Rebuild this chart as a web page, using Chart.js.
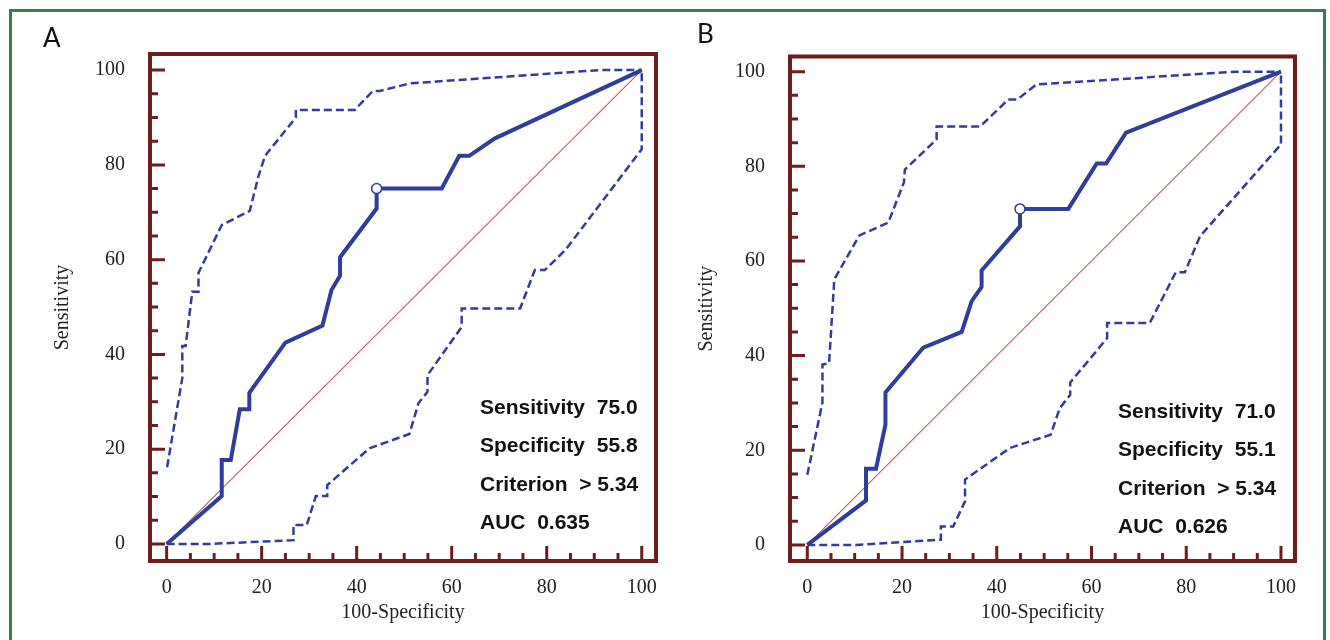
<!DOCTYPE html>
<html>
<head>
<meta charset="utf-8">
<script src="https://cdn.jsdelivr.net/npm/chart.js@4.4.1/dist/chart.umd.min.js"></script>
<style>
  html,body{margin:0;padding:0;background:#fff;}
  #wrap{position:relative;width:1330px;height:640px;overflow:hidden;background:#fff;}
  #edge{position:absolute;left:9px;top:9px;right:4px;bottom:-10px;border:3px solid #3e7b4e;}
  .pane{position:absolute;top:0;width:665px;height:640px;}
</style>
</head>
<body>
<div id="wrap">
  <div id="edge"></div>
  <div class="pane" style="left:0"><canvas id="cA" width="665" height="640"></canvas></div>
  <div class="pane" style="left:665px"><canvas id="cB" width="665" height="640"></canvas></div>
</div>
<script>
// ---- data (100-Specificity, Sensitivity) ----
const tickVals = [0, 20, 40, 60, 80, 100];
const diagonal = [[0, 0], [100, 100]];
const statLabels = ['Sensitivity', 'Specificity', 'Criterion', 'AUC'];

const rocA = [[0,0],[11.6,10.1],[11.6,17.7],[13.5,17.7],[15.4,28.4],[17.4,28.4],[17.4,31.9],[25,42.5],[32.8,46.1],[34.7,53.6],[36.5,56.6],[36.5,60.5],[44.2,70.8],[44.2,75],[57.9,75],[61.6,81.9],[63.7,81.9],[69.1,85.6],[100,100]];
const upperA = [[0.1,16.2],[3.3,35],[3.3,41.8],[4,41.8],[5.4,53.2],[6.7,53.2],[6.7,57.2],[11.6,67.3],[17.5,70.3],[19.3,77.5],[20.7,81.9],[27.2,90],[27.2,91.6],[39.6,91.6],[43.4,95.6],[44.9,95.6],[51.2,97.2],[91.2,100],[100,100]];
const lowerA = [[0,0],[9.1,0],[26.7,0.8],[26.7,4],[29.5,4],[31.4,10.1],[33.8,10.1],[33.8,12.4],[42.7,20.2],[51.1,23.2],[53,29.7],[54.9,32.1],[54.9,35.6],[62.1,45.8],[62.1,49.7],[74.4,49.7],[77.5,57.8],[79.6,57.8],[83.9,62],[100,83.3],[100,100]];
const cutA = [[44.2, 75.0]];
const valuesA = ['75.0', '55.8', '> 5.34', '0.635'];

const rocB = [[0,0],[12.4,9.4],[12.4,16.1],[14.5,16.1],[16.5,25.4],[16.5,32.2],[24.5,41.7],[32.6,45],[34.7,51.5],[36.8,54.5],[36.8,58],[44.9,67.3],[44.9,71],[55.1,71],[61.1,80.6],[63.1,80.6],[67.3,87.1],[100,100]];
const upperB = [[0,14.8],[3.2,30.1],[3.2,38.1],[4.6,38.4],[5.7,56.1],[11,65.4],[17.1,68.1],[20.4,76.6],[20.6,79.3],[27.3,85.7],[27.3,88.4],[36.5,88.4],[42.4,94.1],[44.3,94.1],[48.4,97.3],[90.6,100],[100,100]];
const lowerB = [[0,0],[10.4,0],[28.2,1.1],[28.2,3.9],[30.8,3.9],[33.3,9.2],[33.3,13.8],[42.8,20.5],[51.4,23.3],[53.3,28.9],[55.5,31.7],[55.5,34.3],[63.3,43.7],[63.3,46.9],[72.3,46.9],[77.8,57.6],[79.7,57.6],[82.9,65.2],[100,84.6],[100,100]];
const cutB = [[44.9, 71.0]];
const valuesB = ['71.0', '55.1', '> 5.34', '0.626'];

const BLUE = '#2f3d9c';
const MAROON = '#6e1c1c';
const pts = a => a.map(p => ({x: p[0], y: p[1]}));

// frame, inward ticks, stats text and panel letter
const decor = {
  id: 'decor',
  beforeDatasetsDraw(chart, args, o) {
    const {ctx, chartArea: a, scales: {x, y}} = chart;
    ctx.save();
    ctx.strokeStyle = MAROON;
    ctx.lineWidth = 3;
    ctx.beginPath();
    for (let v = 0; v <= 100; v += 5) {
      const len = v % 20 === 0 ? 15 : 8;
      const py = y.getPixelForValue(v), px = x.getPixelForValue(v);
      ctx.moveTo(a.left, py); ctx.lineTo(a.left + len, py);
      ctx.moveTo(px, a.bottom); ctx.lineTo(px, a.bottom - len);
    }
    ctx.stroke();
    ctx.lineWidth = 4;
    ctx.strokeRect(a.left, a.top, a.right - a.left, a.bottom - a.top);
    ctx.restore();
  },
  afterDraw(chart, args, o) {
    const ctx = chart.ctx;
    ctx.save();
    ctx.fillStyle = '#111';
    ctx.font = 'bold 21px "Liberation Sans", Arial, sans-serif';
    ctx.textBaseline = 'middle';
    ctx.textAlign = 'left';
    statLabels.forEach((l, i) => ctx.fillText(l + '  ' + o.values[i], o.textX, o.textY + i * 38.5));
    ctx.font = '26px Lato, "Open Sans", sans-serif';
    ctx.textBaseline = 'alphabetic';
    ctx.fillText(o.letter, o.letterX, o.letterY);
    ctx.restore();
  }
};

function rocChart(id, d) {
  const tickFont = {family: '"Liberation Serif", "Times New Roman", serif', size: 20};
  return new Chart(document.getElementById(id), {
    type: 'scatter',
    data: {
      datasets: [
        {data: pts(d.cut), showLine: false, pointRadius: 5, pointBorderWidth: 1.5,
         pointBackgroundColor: '#fff', pointBorderColor: BLUE, order: 0},
        {data: pts(d.roc), showLine: true, borderColor: BLUE, borderWidth: 4, pointRadius: 0, order: 1},
        {data: pts(d.upper), showLine: true, borderColor: BLUE, borderWidth: 2.5, borderDash: [8, 4], pointRadius: 0, order: 2},
        {data: pts(d.lower), showLine: true, borderColor: BLUE, borderWidth: 2.5, borderDash: [8, 4], pointRadius: 0, order: 2},
        {data: pts(diagonal), showLine: true, borderColor: '#c4645c', borderWidth: 1.2, pointRadius: 0, order: 3}
      ]
    },
    options: {
      responsive: false,
      animation: false,
      events: [],
      layout: {padding: {left: 0, top: d.top, right: d.right, bottom: 0}},
      plugins: {
        legend: {display: false},
        tooltip: {enabled: false},
        decor: {values: d.values, textX: d.textX, textY: d.textY, letter: d.letter, letterX: d.letterX, letterY: d.letterY}
      },
      scales: {
        x: {
          type: 'linear', min: d.xMin, max: d.xMax,
          grid: {display: false, drawTicks: false}, border: {display: false},
          afterBuildTicks: s => { s.ticks = tickVals.map(v => ({value: v})); },
          afterFit: s => { s.height = 640 - d.bottom; s.paddingLeft = 0; s.paddingRight = 0; },
          ticks: {font: tickFont, color: '#222', padding: 15, maxRotation: 0},
          title: {display: true, text: '100-Specificity', font: tickFont, color: '#222', padding: {top: 0, bottom: 15}}
        },
        y: {
          type: 'linear', min: d.yMin, max: d.yMax,
          grid: {display: false, drawTicks: false}, border: {display: false},
          afterBuildTicks: s => { s.ticks = tickVals.map(v => ({value: v})); },
          afterFit: s => { s.width = d.left; s.paddingTop = 0; s.paddingBottom = 0; },
          ticks: {font: tickFont, color: '#222', padding: 25},
          title: {display: true, text: 'Sensitivity', font: tickFont, color: '#222', padding: {top: d.yTitlePad, bottom: 0}}
        }
      }
    },
    plugins: [decor]
  });
}

rocChart('cA', {roc: rocA, upper: upperA, lower: lowerA, cut: cutA, values: valuesA,
  left: 150, top: 54, right: 665 - 656, bottom: 561,
  xMin: -3.5, xMax: 103.0, yMin: -3.6, yMax: 103.4, yTitlePad: 51,
  textX: 480, textY: 408, letter: 'A', letterX: 43, letterY: 47});

rocChart('cB', {roc: rocB, upper: upperB, lower: lowerB, cut: cutB, values: valuesB,
  left: 125, top: 56.5, right: 665 - 630, bottom: 561,
  xMin: -3.65, xMax: 102.96, yMin: -3.4, yMax: 103.2, yTitlePad: 30,
  textX: 453, textY: 412, letter: 'B', letterX: 32, letterY: 43});
</script>
</body>
</html>
